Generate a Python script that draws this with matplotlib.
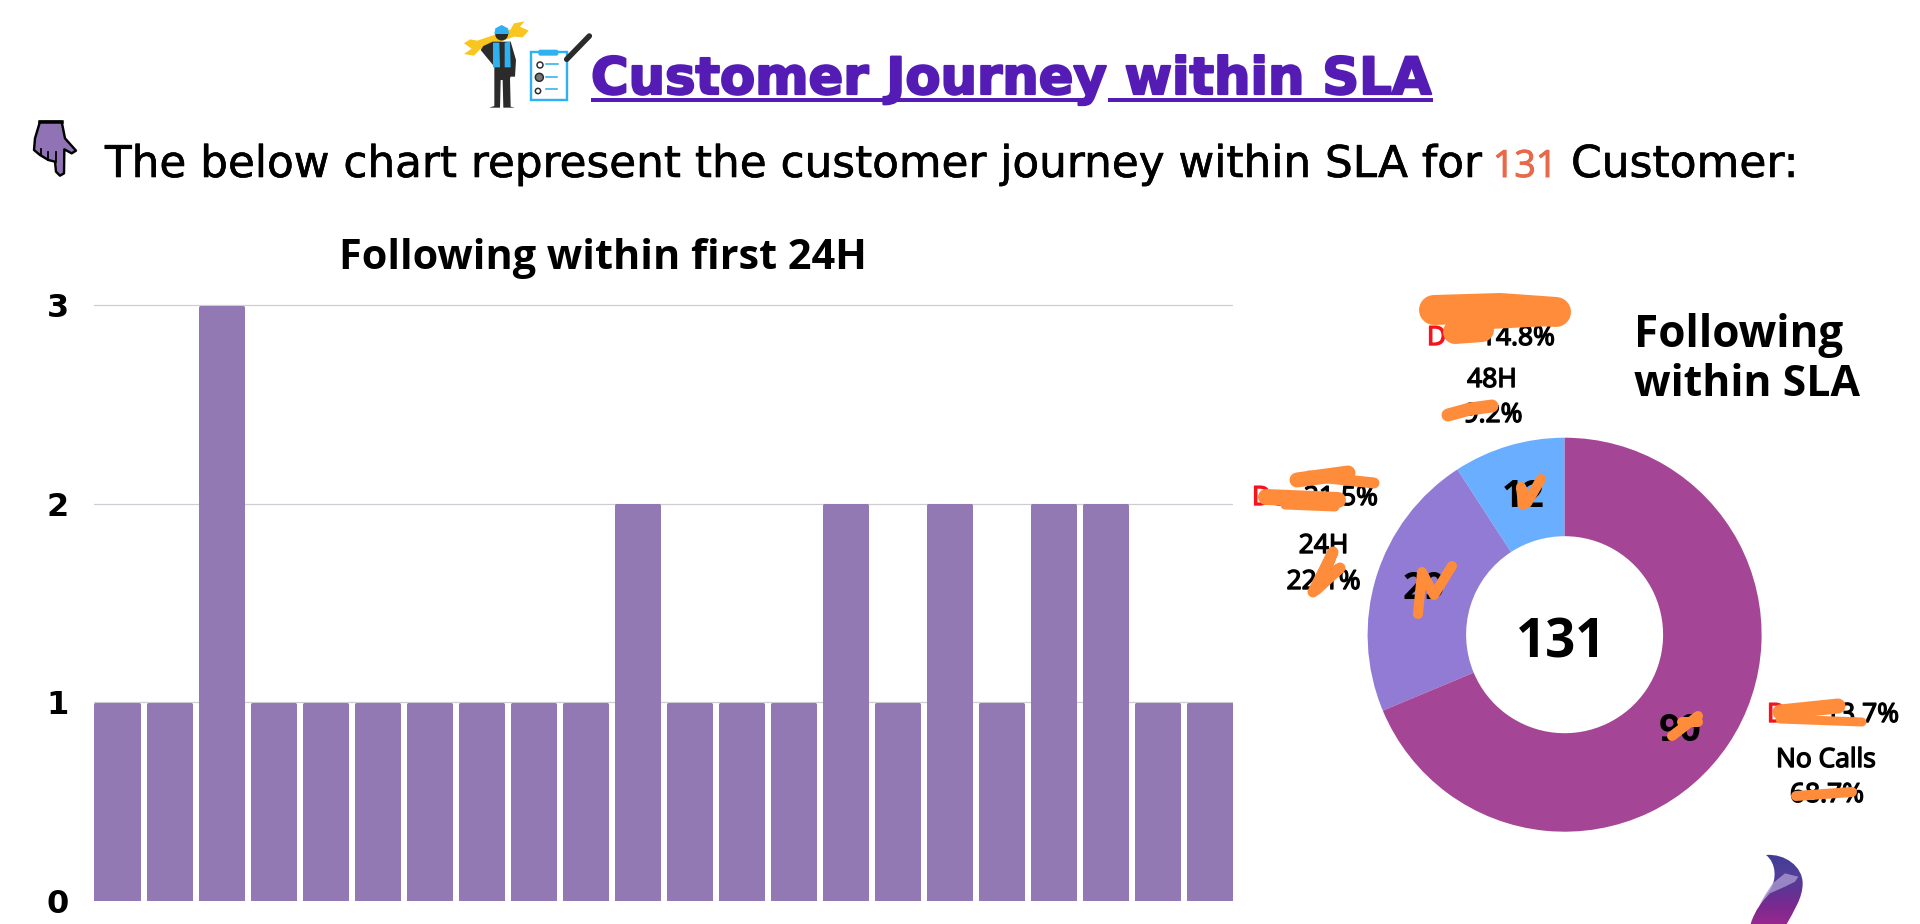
import numpy as np
import matplotlib
matplotlib.use("Agg")
import matplotlib.pyplot as plt
import matplotlib.patheffects as pe
from matplotlib.colors import LinearSegmentedColormap
from matplotlib.patches import Polygon, Circle, Rectangle, FancyBboxPatch, PathPatch
from matplotlib.path import Path

# Bar chart data
bar_title = "Following within first 24H"
bar_values = [1, 1, 3, 1, 1, 1, 1, 1, 1, 1, 2, 1, 1, 1, 2, 1, 2, 1, 2, 2, 1, 1]
y_ticks = [0, 1, 2, 3]

# Donut data (counter clockwise from the top)
pie_names = ["48H", "24H", "No Calls"]
pie_values = [12, 29, 90]
pie_shares = ["9.2%", "22.1%", "68.7%"]
pie_done_shares = ["14.8%", "21.5%", "13.7%"]
pie_done_tags = ["D", "Do", "D"]
pie_colors = ["#6AAEFF", "#917BD5", "#A54595"]
pie_total = "131"
pie_title = ["Following", "within SLA"]

title = "Customer Journey within SLA"
intro_parts = ["The below chart represent the customer journey within SLA for", "131", "Customer:"]

BAR_COLOR = "#9279B3"
TITLE_COLOR = "#541CB5"
ORANGE = "#FF8C3B"
W, H = 1920, 924
PX = 72 / 100  # one pixel in points at dpi 100

fig = plt.figure(figsize=(W / 100, H / 100), dpi=100, facecolor="white")


def px_axes(left, top, right, bottom, **kw):
    return fig.add_axes([left / W, 1 - bottom / H, (right - left) / W, (bottom - top) / H], **kw)


def heavy(t, px, color="black"):
    # fake a heavier weight, the fonts here have no medium or extra bold cut
    t.set_path_effects([pe.withStroke(linewidth=px * PX, foreground=color)])
    return t


# bar chart
ax = px_axes(94, 301.5, 1233, 901)
x = np.arange(len(bar_values))
edge = 3 * PX  # round joined edge gives the small rounded corners
ax.bar(x, bar_values, width=(46.3 - 3) / 52, bottom=-1.5 / 198.5, color=BAR_COLOR,
       edgecolor=BAR_COLOR, linewidth=edge, joinstyle="round", zorder=3)
ax.set_xlim(-0.445, len(bar_values) - 1 + 0.445)
ax.set_ylim(0, 3.02)
ax.set_xticks([])
ax.set_yticks(y_ticks)
ax.set_yticklabels([str(t) for t in y_ticks], fontsize=23, fontweight="bold", family="DejaVu Sans", color="black")
ax.tick_params(axis="y", length=0, pad=18)
ax.grid(axis="y", color="#CFCDD3", linewidth=1.2 * PX, zorder=0)
ax.set_axisbelow(True)
for s in ax.spines.values():
    s.set_visible(False)

# donut
ax_pie = px_axes(1564.6 - 197, 634.7 - 197, 1564.6 + 197, 634.7 + 197)
ax_pie.pie(pie_values, colors=pie_colors, startangle=90, counterclock=True, radius=1,
           wedgeprops={"width": 0.5, "linewidth": 0})
ax_pie.set_xlim(-1, 1)
ax_pie.set_ylim(-1, 1)

# everything else sits on an overlay in pixel coordinates
ov = fig.add_axes([0, 0, 1, 1], zorder=5)
ov.set_xlim(0, W)
ov.set_ylim(H, 0)
ov.axis("off")
ov.patch.set_alpha(0)
renderer = fig.canvas.get_renderer()


def fit_text(x0, x1, y, s, size, **kw):
    # place text on baseline y and scale the font so that it spans x0..x1
    t = ov.text(x0, y, s, fontsize=size, va="baseline", ha="left", **kw)
    w = t.get_window_extent(renderer).width
    t.set_fontsize(size * (x1 - x0) / w)
    return t


def label(cx, y, s, size=19, color="black", ha="center"):
    t = ov.text(cx, y, s, fontsize=size, ha=ha, va="baseline", color=color, family="Open Sans")
    return heavy(t, 1.4, color)


def scribble(points, width):
    xs, ys = zip(*points)
    ov.plot(xs, ys, color=ORANGE, lw=width * PX, solid_capstyle="round", solid_joinstyle="round", zorder=8)


# heading
heavy(fit_text(591, 1433, 94, title, 34, color=TITLE_COLOR, family="DejaVu Sans", fontweight="bold"), 2.2, TITLE_COLOR)
ov.add_patch(Rectangle((591, 97.7), 493, 4.6, color=TITLE_COLOR, lw=0))
ov.add_patch(Rectangle((1108, 97.7), 325, 4.6, color=TITLE_COLOR, lw=0))

# intro line
sub = dict(family="DejaVu Sans")
heavy(fit_text(105, 1480, 177, intro_parts[0], 28, color="black", **sub), 0.6)
heavy(ov.text(1525, 177, intro_parts[1], fontsize=27, ha="center", va="baseline", color="#E8694A",
              family="Open Sans"), 1.0, "#E8694A")
heavy(fit_text(1571, 1798, 177, intro_parts[2], 28, color="black", **sub), 0.6)

# chart titles
bold = dict(color="black", family="Open Sans", fontweight="bold")
fit_text(339, 867, 269, bar_title, 26, **bold)
fit_text(1634, 1843, 347, pie_title[0], 29, **bold)
fit_text(1634, 1859, 396, pie_title[1], 29, **bold)

# donut labels
ov.text(1561.5, 657.5, pie_total, fontsize=38, ha="center", va="baseline", family="Open Sans", fontweight="bold")
for v, (cx, cy) in zip(pie_values, [(1523, 507), (1424, 599), (1680, 741)]):
    ov.text(cx, cy, str(v), fontsize=27, ha="center", va="baseline", family="Open Sans", fontweight="bold")

name_pos = [(1492, 387), (1323.6, 553), (1826, 767)]
share_pos = [(1493, 422), (1323.6, 589), (1827, 802)]
done_pos = [(1427, 1555, 345), (1252, 1378, 505), (1767, 1899, 722)]
for i in range(3):
    label(name_pos[i][0], name_pos[i][1], pie_names[i])
    label(share_pos[i][0], share_pos[i][1], pie_shares[i])
    x0, x1, y = done_pos[i]
    label(x0, y, pie_done_tags[i], color="#F5141E", ha="left")
    label(x1, y, pie_done_shares[i], ha="right")

# orange scribbles over the labels
scribble([(1434, 310), (1500, 308), (1556, 312)], 30)
scribble([(1470, 320), (1550, 316)], 20)
scribble([(1455, 332), (1482, 330)], 24)
scribble([(1448, 415), (1470, 409), (1492, 406)], 13)
scribble([(1297, 480), (1348, 473)], 15)
scribble([(1309, 476), (1374, 483)], 11)
scribble([(1266, 497), (1338, 500)], 16)
scribble([(1285, 505), (1335, 507)], 9)
scribble([(1313, 592), (1333, 552), (1320, 582), (1340, 568), (1316, 590), (1330, 560)], 11)
scribble([(1523, 505), (1521, 487), (1527, 503), (1541, 479)], 10)
scribble([(1418, 614), (1422, 572), (1434, 595), (1452, 566)], 10)
scribble([(1672, 736), (1698, 716)], 10)
scribble([(1682, 722), (1698, 722)], 10)
scribble([(1780, 712), (1838, 706)], 15)
scribble([(1780, 719), (1862, 722)], 9)
scribble([(1796, 796), (1852, 792)], 10)


# small pictures, traced by hand
def z4(pts):
    return [(450 + a / 3, 10 + b / 3) for a, b in pts]


def poly(pts, color, **kw):
    ov.add_patch(Polygon(pts, closed=True, facecolor=color, edgecolor=kw.pop("edge", "none"), lw=kw.pop("lw", 0), **kw))


DARK = "#2B2B2B"
BLUE = "#2FB0F0"
# wrench
poly(z4([(42, 100), (60, 88), (82, 92), (182, 58), (192, 40), (224, 34), (210, 50), (236, 62), (218, 82), (192, 80),
         (90, 118), (72, 137), (42, 132), (65, 116)]), "#F8C61E")
# worker
poly(z4([(128, 95), (182, 95), (198, 150), (195, 200), (182, 200), (180, 205), (182, 290), (195, 293), (160, 293),
         (158, 210), (152, 210), (150, 293), (118, 293), (133, 288), (133, 170), (92, 120), (100, 108)]), DARK)
ov.add_patch(Circle((450 + 155 / 3, 10 + 72 / 3), 6.5, color=DARK, lw=0))
poly(z4([(133, 72), (136, 55), (155, 45), (174, 55), (178, 72)]), BLUE)
poly(z4([(129, 98), (148, 98), (150, 172), (129, 172)]), BLUE)
poly(z4([(164, 98), (180, 95), (182, 172), (164, 172)]), BLUE)
# clipboard
ov.add_patch(Rectangle((450 + 243 / 3, 10 + 127 / 3), 108 / 3, 143 / 3, fill=False, ec=BLUE, lw=2.4 * PX))
ov.add_patch(FancyBboxPatch((450 + 268 / 3, 10 + 122 / 3), 54 / 3, 12 / 3, boxstyle="round,pad=1,rounding_size=2",
                            fc=BLUE, ec="none"))
for by, bw in [(163, 36), (200, 34), (236, 34)]:
    ov.plot([450 + 288 / 3, 450 + (288 + bw) / 3], [10 + by / 3] * 2, color=BLUE, lw=1.6 * PX)
for gx, gy, r in [(270, 165, 9), (268, 202, 12), (264, 243, 8)]:
    ov.add_patch(Circle((450 + gx / 3, 10 + gy / 3), r / 3, fc="#777777" if r == 12 else "none", ec=DARK, lw=1.5 * PX))
# pen
ov.plot(*zip(*z4([(350, 148), (418, 78)])), color=DARK, lw=5.5 * PX, solid_capstyle="round")

# pointing hand
hand = [(60, 35), (125, 35), (135, 85), (168, 122), (155, 130), (133, 118), (132, 190), (120, 197), (108, 185),
        (105, 155), (85, 150), (60, 135), (42, 120), (45, 85)]
poly([(20 + a / 3, 110 + b / 3) for a, b in hand], "#8F73B5", edge="black", lw=2.4 * PX, joinstyle="round")
for a, b0, b1 in [(62, 118, 135), (85, 125, 150), (107, 125, 155)]:
    ov.plot([20 + a / 3] * 2, [110 + b0 / 3, 110 + b1 / 3], color="black", lw=1.8 * PX)
ov.plot([20 + 60 / 3, 20 + 125 / 3], [110 + 35 / 3] * 2, color="black", lw=3.5 * PX)


# logo in the corner, a gradient clipped to a curved outline
def z6(pts):
    return [(1730 + a / 3, 840 + b / 3) for a, b in pts]


codes = [Path.MOVETO, Path.CURVE4, Path.CURVE4, Path.CURVE4, Path.CURVE4, Path.CURVE4, Path.CURVE4,
         Path.LINETO, Path.CURVE4, Path.CURVE4, Path.CURVE4, Path.CURVE4, Path.CURVE4, Path.CURVE4, Path.CLOSEPOLY]
outline = Path(z6([(108, 45), (165, 40), (218, 80), (218, 130), (218, 175), (190, 215), (170, 252),
                   (62, 252), (72, 215), (100, 180), (120, 150), (140, 120), (140, 70), (108, 45), (108, 45)]), codes)
logo_cmap = LinearSegmentedColormap.from_list("logo", ["#3F3C96", "#4F3F98", "#5E3594", "#7A2A90", "#96288F"])
clip = PathPatch(outline, fc="none", ec="none", transform=ov.transData)
ov.add_patch(clip)
img = ov.imshow(np.linspace(0, 1, 60).reshape(-1, 1), cmap=logo_cmap, extent=(1750, 1805, 924, 853), aspect="auto",
                zorder=2)
img.set_clip_path(clip)
band = Path(z6([(128, 130), (165, 100), (205, 110), (195, 125), (165, 140), (120, 160), (88, 195), (105, 165),
                (128, 130)]), [Path.MOVETO] + [Path.LINETO] * 7 + [Path.CLOSEPOLY])
ov.add_patch(PathPatch(band, fc="#A79AD0", ec="none", alpha=0.8, zorder=3))
ov.set_xlim(0, W)
ov.set_ylim(H, 0)

fig.savefig("out.png", dpi=100, facecolor="white")
